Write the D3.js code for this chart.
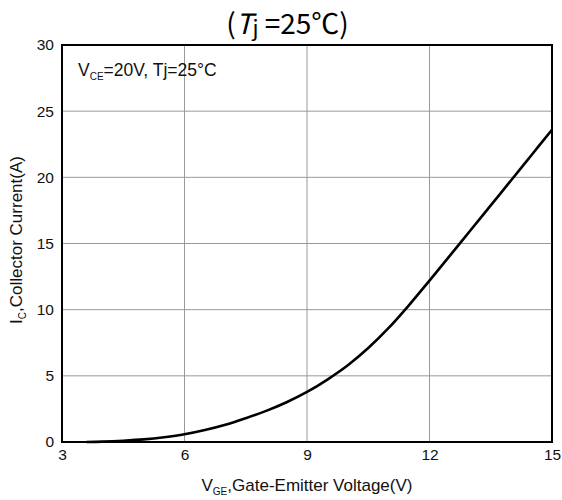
<!DOCTYPE html>
<html><head><meta charset="utf-8">
<script src="https://cdn.jsdelivr.net/npm/d3@7"></script>
<style>body{margin:0;background:#fff}svg{display:block}</style>
</head><body>
<script>
const vge = [3.6, 4.0, 4.5, 5.0, 5.5, 6.0, 6.5, 7.0, 7.5, 8.0, 8.5, 9.0, 9.5, 10.0, 10.5, 11.0, 11.5, 12.0, 12.5, 13.0, 13.5, 14.0, 14.5, 15.0];
const ic  = [0, 0.03, 0.1, 0.2, 0.36, 0.58, 0.9, 1.3, 1.8, 2.35, 3.0, 3.78, 4.72, 5.8, 7.1, 8.62, 10.35, 12.2, 14.08, 15.98, 17.88, 19.78, 21.69, 23.6];
const xTicks = [3, 6, 9, 12, 15];
const yTicks = [0, 5, 10, 15, 20, 25, 30];

const W = 562, H = 500;
const m = {l: 62, r: 10, t: 45, b: 58};
const svg = d3.select("body").append("svg").attr("width", W).attr("height", H);
const x = d3.scaleLinear().domain([3, 15]).range([m.l, W - m.r]);
const y = d3.scaleLinear().domain([0, 30]).range([H - m.b, m.t]);
const font = "Liberation Sans, Arial, sans-serif";

// grid
svg.append("g").selectAll("line").data(xTicks.slice(1, -1)).join("line")
  .attr("x1", d => x(d)).attr("x2", d => x(d)).attr("y1", y(0)).attr("y2", y(30))
  .attr("stroke", "#999").attr("stroke-width", 1);
svg.append("g").selectAll("line").data(yTicks.slice(1, -1)).join("line")
  .attr("y1", d => y(d)).attr("y2", d => y(d)).attr("x1", x(3)).attr("x2", x(15))
  .attr("stroke", "#999").attr("stroke-width", 1);

// axes (labels only)
const xa = svg.append("g").attr("transform", `translate(0,${y(0)})`)
  .call(d3.axisBottom(x).tickValues(xTicks).tickSize(0).tickPadding(7).tickFormat(d3.format("d")));
const ya = svg.append("g").attr("transform", `translate(${x(3)},0)`)
  .call(d3.axisLeft(y).tickValues(yTicks).tickSize(0).tickPadding(8).tickFormat(d3.format("d")));
[xa, ya].forEach(a => {
  a.select(".domain").remove();
  a.selectAll("text").attr("font-family", font).attr("font-size", 15.5).attr("fill", "#111");
});

// curve
svg.append("path").datum(vge.map((v, i) => [v, ic[i]]))
  .attr("d", d3.line().x(d => x(d[0])).y(d => y(d[1])).curve(d3.curveCatmullRom.alpha(0.5)))
  .attr("fill", "none").attr("stroke", "#000").attr("stroke-width", 2.6);

// frame
svg.append("rect").attr("x", x(3)).attr("y", y(30)).attr("width", x(15) - x(3)).attr("height", y(0) - y(30))
  .attr("fill", "none").attr("stroke", "#000").attr("stroke-width", 2);

// annotation
const ann = svg.append("text").attr("x", 78).attr("y", 76).attr("font-family", font).attr("font-size", 17.5).attr("fill", "#111");
ann.append("tspan").text("V");
ann.append("tspan").attr("font-size", 10).attr("dy", 4).text("CE");
ann.append("tspan").attr("dy", -4).text("=20V, Tj=25°C");

// x label
const xl = svg.append("text").attr("x", 307).attr("y", 491).attr("text-anchor", "middle")
  .attr("font-family", font).attr("font-size", 17).attr("fill", "#111");
xl.append("tspan").text("V");
xl.append("tspan").attr("font-size", 10).attr("dy", 4).text("GE");
xl.append("tspan").attr("dy", -4).text(",Gate-Emitter Voltage(V)");

// y label
const yl = svg.append("text").attr("transform", `translate(22,240) rotate(-90)`)
  .attr("text-anchor", "middle").attr("font-family", font).attr("font-size", 17).attr("fill", "#111");
yl.append("tspan").text("I");
yl.append("tspan").attr("font-size", 10).attr("dy", 4).text("C");
yl.append("tspan").attr("dy", -4).text(",Collector Current(A)");

// title
const tt = svg.append("text").attr("x", 287.5).attr("y", 34).attr("text-anchor", "middle")
  .attr("font-family", "Noto Sans CJK SC, Noto Sans, sans-serif").attr("font-size", 28).attr("fill", "#000");
tt.append("tspan").text("(");
tt.append("tspan").attr("font-style", "italic").text("T");
tt.append("tspan").attr("font-size", 22).attr("dy", 2).text("j");
tt.append("tspan").attr("dy", -2).text(" =25℃)");
</script>
</body></html>
